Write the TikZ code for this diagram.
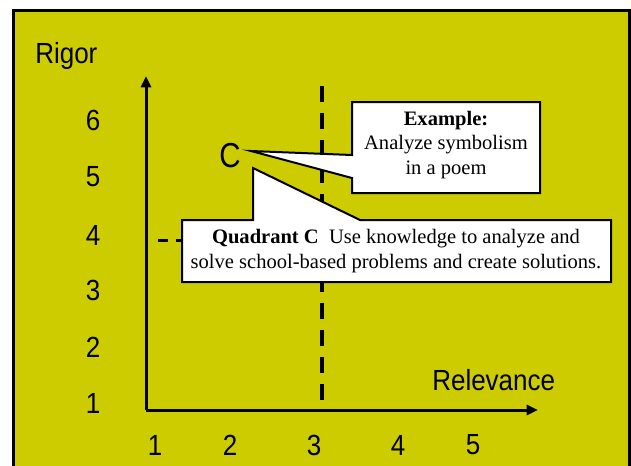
\documentclass[tikz,border=0pt]{standalone}
\usepackage{fontspec}
\setmainfont{Liberation Serif}
\newfontfamily\labelfont{Liberation Sans}
\usetikzlibrary{arrows.meta}
\definecolor{slideyellow}{RGB}{204,204,0}

\begin{document}
\begin{tikzpicture}[x=0.75pt,y=-0.75pt,
  axisline/.style={line width=2.25pt,-{Triangle[width=7.5pt,length=8.5pt]}},
  guideline/.style={line width=3pt,dash pattern=on 12pt off 8.32pt},
  levelline/.style={line width=2.25pt,dash pattern=on 7.5pt off 6pt},
  callout/.style={fill=white,draw=black,line width=1.5pt,line join=miter},
  calltext/.style={align=center,inner sep=0pt,font=\fontsize{15.4}{18.6}\selectfont},
  axlabel/.style={inner sep=0pt,yscale=1.12,font=\labelfont\fontsize{19.5}{22}\selectfont}]
\useasboundingbox (0,0) rectangle (631,465);
\path[fill=slideyellow,draw=black,line width=2.25pt] (13.5,10) rectangle (629,480);
% axes and guides
\coordinate (origin) at (146,410);
\coordinate (y-tip) at (146,76);
\coordinate (x-tip) at (538,410);
\coordinate (guide-top) at (322,86);
\coordinate (guide-bottom) at (322,400);
\coordinate (level-start) at (158,240);
\coordinate (level-end) at (322,240);
\draw[levelline] (level-start) -- (level-end);
\draw[guideline] (guide-top) -- (guide-bottom);
\draw[axisline] (origin) -- (y-tip);
\draw[axisline] (origin) -- (x-tip);
\node[axlabel,anchor=base west] (rigor-label) at (35,63) {Rigor};
\node[axlabel,anchor=base west] (relevance-label) at (432,390) {Relevance};
\foreach \v/\y in {6/120,5/177,4/235,3/290,2/347,1/403}
  \node[axlabel] (ytick-\v) at (93,\y) {\v};
\foreach \v/\x in {1/155,2/230,3/314,4/398,5/473}
  \node[axlabel] (xtick-\v) at (\x,445) {\v};
% quadrant marker and callouts
\node[inner sep=0pt,xscale=0.85,font=\labelfont\fontsize{26}{28}\selectfont] (quad-c) at (230,155.5) {C};
\coordinate (example-tip) at (251,151);
\coordinate (quadrant-tip) at (253,168);
\path[callout] (352,102) -- (540,102) -- (540,193) -- (352,193) -- (352,178)
  -- (example-tip) -- (352,155) -- cycle;
\path[callout] (182,220) -- (253,220) -- (quadrant-tip) -- (360,220) -- (611,220)
  -- (611,282) -- (182,282) -- cycle;
\node[calltext] (example-text) at (446,145) {\textbf{Example:}\\Analyze symbolism\\in a poem};
\node[calltext] (quadrant-text) at (396,251) {\textbf{Quadrant C}\ \ Use knowledge to analyze and\\solve school-based problems and create solutions.};
\end{tikzpicture}
\end{document}
